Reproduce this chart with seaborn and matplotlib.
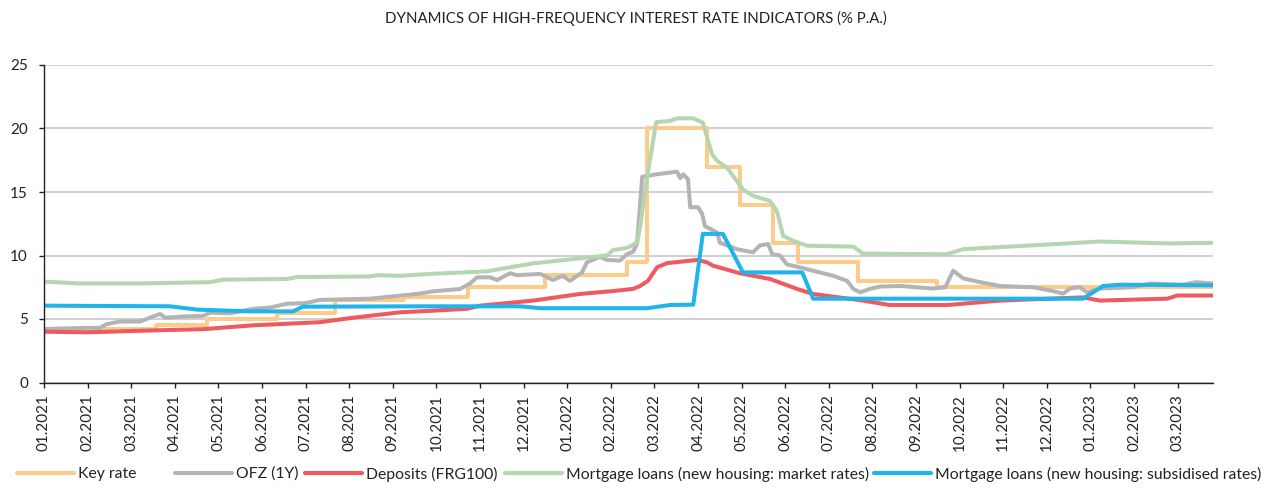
import matplotlib.pyplot as plt
import seaborn as sns
import pandas as pd
from matplotlib.lines import Line2D

plt.switch_backend('Agg')
sns.set_theme(style="white")
plt.rcParams['font.family'] = ['Lato', 'DejaVu Sans']

# eje x: meses desde 01.2021 (0 = enero 2021)
MESES = [f"{(i % 12) + 1:02d}.{2021 + i // 12}" for i in range(27)]
X_FIN = 26.81

# Tasa clave (escalones)
key_t = [0, 2.58, 3.73, 5.34, 6.67, 8.26, 9.73, 11.49, 13.37, 13.82, 15.2, 15.96, 16.71, 17.3, 18.67, 20.48, 26.81]
key_v = [4.25, 4.5, 5.0, 5.5, 6.5, 6.75, 7.5, 8.5, 9.5, 20.0, 17.0, 14.0, 11.0, 9.5, 8.0, 7.5, 7.5]

# OFZ (1Y)
ofz_t = [0, 0.37, 0.99, 1.28, 1.44, 1.74, 2.20, 2.66, 2.78, 3.23, 3.65, 3.81, 4.27, 4.79, 5.18, 5.57,
         5.99, 6.33, 6.90, 7.48, 8.17, 8.62, 8.92, 9.54, 9.77, 9.93, 10.23, 10.39, 10.69, 10.85, 11.38,
         11.67, 11.90, 12.06, 12.34, 12.45, 12.75, 12.91, 13.21, 13.37, 13.51, 13.60, 13.72, 14.06,
         14.52, 14.59, 14.66, 14.77, 14.82, 15.00, 15.09, 15.16, 15.28, 15.44, 15.50, 15.67, 15.89,
         16.03, 16.26, 16.42, 16.61, 16.70, 16.88, 17.04, 17.34, 17.64, 18.10, 18.42, 18.56, 18.72,
         18.94, 19.17, 19.63, 20.39, 20.67, 20.85, 21.08, 21.47, 21.93, 22.68, 23.14, 23.37, 23.53,
         23.76, 23.92, 24.22, 24.98, 25.37, 26.12, 26.42, 26.81]
ofz_v = [4.2, 4.25, 4.3, 4.3, 4.6, 4.8, 4.8, 5.4, 5.1, 5.2, 5.25, 5.5, 5.45, 5.8, 5.9, 6.2,
         6.25, 6.5, 6.55, 6.6, 6.84, 7.0, 7.18, 7.36, 7.8, 8.28, 8.28, 8.07, 8.6, 8.45, 8.55,
         8.07, 8.4, 8.0, 8.67, 9.46, 9.9, 9.65, 9.6, 10.1, 10.3, 10.9, 16.2, 16.4,
         16.6, 16.1, 16.4, 16.0, 13.8, 13.8, 13.3, 12.3, 12.1, 11.8, 11.0, 10.8, 10.5,
         10.4, 10.25, 10.8, 10.9, 10.1, 10.0, 9.3, 9.06, 8.8, 8.4, 8.0, 7.37, 7.1,
         7.37, 7.55, 7.6, 7.4, 7.5, 8.8, 8.2, 7.9, 7.6, 7.5, 7.2, 7.0, 7.4,
         7.5, 7.1, 7.4, 7.5, 7.8, 7.7, 7.9, 7.8]

# Depósitos (FRG100)
dep_t = [0, 0.99, 2.50, 3.65, 4.79, 6.33, 7.09, 8.17, 8.62, 9.70, 10.0, 11.22, 12.29, 13.05, 13.51,
         13.67, 13.85, 14.06, 14.29, 14.98, 15.21, 15.34, 15.96, 16.65, 17.27, 17.64, 18.78, 19.40,
         20.71, 21.93, 23.83, 24.22, 25.76, 25.99, 26.81]
dep_v = [4.0, 3.95, 4.1, 4.2, 4.5, 4.75, 5.1, 5.53, 5.6, 5.8, 6.05, 6.45, 6.97, 7.2, 7.37,
         7.6, 8.0, 9.07, 9.4, 9.65, 9.46, 9.2, 8.6, 8.15, 7.37, 6.97, 6.45, 6.1,
         6.1, 6.45, 6.7, 6.45, 6.6, 6.85, 6.85]

# Hipotecas (vivienda nueva: tasas de mercado)
mkt_t = [0, 0.83, 2.13, 3.81, 4.11, 5.57, 5.80, 7.48, 7.64, 8.17, 8.85, 10.16, 10.46, 11.22, 12.36,
         12.91, 13.05, 13.37, 13.60, 13.67, 13.83, 14.04, 14.36, 14.52, 14.89, 15.11, 15.32, 15.44,
         15.67, 16.03, 16.26, 16.65, 16.81, 16.95, 17.18, 17.50, 18.56, 18.78, 20.71, 21.08, 22.68,
         24.22, 25.76, 26.81]
mkt_v = [7.94, 7.8, 7.8, 7.9, 8.1, 8.15, 8.3, 8.35, 8.45, 8.4, 8.55, 8.75, 8.94, 9.38, 9.8,
         10.0, 10.43, 10.6, 11.0, 12.2, 16.1, 20.5, 20.6, 20.8, 20.8, 20.46, 17.98, 17.45,
         16.9, 15.2, 14.7, 14.3, 13.5, 11.55, 11.16, 10.77, 10.7, 10.15, 10.1, 10.5, 10.8,
         11.1, 10.95, 11.0]

# Hipotecas (vivienda nueva: tasas subsidiadas)
sub_t = [0, 2.89, 3.51, 4.72, 5.71, 5.94, 8.62, 10.92, 11.38, 13.83, 14.36, 14.89, 15.11, 15.57,
         16.03, 17.39, 17.64, 23.83, 24.29, 24.68, 26.81]
sub_v = [6.05, 6.0, 5.74, 5.6, 5.6, 5.97, 6.0, 6.0, 5.85, 5.85, 6.1, 6.13, 11.7, 11.7,
         8.67, 8.67, 6.6, 6.6, 7.6, 7.7, 7.65]

SERIES = [
    ("Key rate", key_t, key_v, "#FFCB8A", "steps-post"),
    ("OFZ (1Y)", ofz_t, ofz_v, "#B4B4B4", "default"),
    ("Deposits (FRG100)", dep_t, dep_v, "#EE5A60", "default"),
    ("Mortgage loans (new housing: market rates)", mkt_t, mkt_v, "#B4D6B1", "default"),
    ("Mortgage loans (new housing: subsidised rates)", sub_t, sub_v, "#1FB5EA", "default"),
]
# inicio horizontal (px) de cada entrada de la leyenda
LEYENDA_X = [17, 175, 305, 505, 874]

fig = plt.figure(figsize=(12.72, 4.88), dpi=100)
ax = fig.add_axes([44 / 1272, 1 - 382.5 / 488, (1213 - 44) / 1272, (382.5 - 65) / 488])

for nombre, t, v, color, estilo in SERIES:
    df = pd.DataFrame({"t": t, "v": v})
    sns.lineplot(data=df, x="t", y="v", ax=ax, color=color, linewidth=2.9,
                 estimator=None, sort=False, drawstyle=estilo)

ax.set_xlim(0, X_FIN)
ax.set_ylim(0, 25)
ax.set_yticks(range(0, 26, 5))
ax.set_xticks(range(len(MESES)))
ax.set_xticklabels(MESES, rotation=90)
ax.set_xlabel('')
ax.set_ylabel('')
ax.grid(axis='y', color='#CFCFCF', linewidth=1.4)
ax.set_axisbelow(True)
for lado in ['top', 'right']:
    ax.spines[lado].set_visible(False)
for lado in ['left', 'bottom']:
    ax.spines[lado].set_color('#222222')
    ax.spines[lado].set_linewidth(1.0)
ax.tick_params(axis='both', which='both', direction='out', length=3.6, width=1.0,
               color='#222222', labelsize=11, labelcolor='#222222', left=True, bottom=True)
ax.tick_params(axis='y', pad=8)
ax.tick_params(axis='x', pad=4.5)

fig.text(0.5, 1 - 18 / 488, "DYNAMICS OF HIGH-FREQUENCY INTEREST RATE INDICATORS (% P.A.)",
         ha='center', va='center', fontsize=10.8, color='#222222')

# leyenda: una entrada por serie, como en el original
for (nombre, t, v, color, estilo), x0 in zip(SERIES, LEYENDA_X):
    h = Line2D([], [], color=color, linewidth=3.0)
    fig.legend([h], [nombre], loc='center left', bbox_to_anchor=(x0 / 1272, 1 - 474 / 488),
               frameon=False, fontsize=11.3, handlelength=3.6, handletextpad=0.3,
               borderpad=0, borderaxespad=0, labelcolor='#222222')

fig.savefig('out.png', dpi=100)
plt.close(fig)
